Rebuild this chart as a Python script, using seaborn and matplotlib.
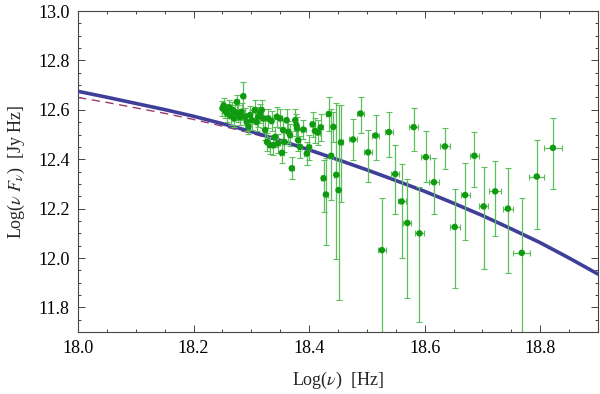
import numpy as np
import pandas as pd
import matplotlib
matplotlib.use("Agg")
import matplotlib.pyplot as plt
import seaborn as sns
from matplotlib.ticker import MultipleLocator

# observed points: log frequency, log nuFnu, lower/upper y error, x error
log_nu = [
    18.250, 18.252, 18.255, 18.258, 18.262, 18.264, 18.267, 18.270, 18.272, 18.275,
    18.277, 18.280, 18.283, 18.286, 18.289, 18.292, 18.295, 18.298, 18.301, 18.306,
    18.309, 18.312, 18.315, 18.318, 18.321, 18.324, 18.327, 18.329, 18.332, 18.335,
    18.338, 18.341, 18.344, 18.346, 18.350, 18.353, 18.355, 18.357, 18.361, 18.364,
    18.367, 18.370, 18.376, 18.378, 18.379, 18.381, 18.384,
    18.390, 18.396, 18.400, 18.406, 18.410, 18.415, 18.420, 18.425, 18.429, 18.434,
    18.438, 18.442, 18.447, 18.451, 18.455, 18.476, 18.489, 18.502, 18.515, 18.526,
    18.538, 18.549, 18.560, 18.570, 18.581, 18.591, 18.602, 18.616, 18.635, 18.652,
    18.670, 18.686, 18.702, 18.722, 18.744, 18.768, 18.794, 18.822,
]
log_flux = [
    12.606, 12.618, 12.595, 12.585, 12.610, 12.575, 12.600, 12.565, 12.590, 12.632,
    12.585, 12.570, 12.592, 12.655, 12.572, 12.551, 12.531, 12.579, 12.558, 12.599,
    12.551, 12.572, 12.585, 12.599, 12.565, 12.518, 12.470, 12.565, 12.457, 12.555,
    12.457, 12.490, 12.572, 12.464, 12.565, 12.426, 12.518, 12.470, 12.558, 12.511,
    12.498, 12.363, 12.558, 12.538, 12.525, 12.477, 12.450,
    12.520, 12.423, 12.448, 12.541, 12.515, 12.508, 12.529, 12.323, 12.257, 12.583,
    12.414, 12.531, 12.337, 12.275, 12.468, 12.480, 12.585, 12.428, 12.496, 12.032,
    12.510, 12.340, 12.229, 12.142, 12.530, 12.100, 12.409, 12.307, 12.452, 12.126,
    12.255, 12.414, 12.209, 12.270, 12.200, 12.021, 12.330, 12.446,
]
err_lo = [
    0.030, 0.030, 0.030, 0.035, 0.030, 0.035, 0.030, 0.035, 0.030, 0.030,
    0.035, 0.030, 0.035, 0.057, 0.035, 0.035, 0.030, 0.035, 0.040, 0.040,
    0.035, 0.040, 0.040, 0.040, 0.040, 0.040, 0.035, 0.040, 0.035, 0.040,
    0.040, 0.040, 0.040, 0.040, 0.040, 0.040, 0.040, 0.040, 0.045, 0.045,
    0.045, 0.045, 0.045, 0.045, 0.045, 0.045, 0.045,
    0.040, 0.045, 0.050, 0.050, 0.050, 0.050, 0.055, 0.136, 0.205, 0.070,
    0.180, 0.060, 0.340, 0.445, 0.240, 0.084, 0.078, 0.120, 0.100, 0.400,
    0.100, 0.160, 0.229, 0.302, 0.097, 0.358, 0.101, 0.129, 0.090, 0.246,
    0.180, 0.128, 0.255, 0.179, 0.262, 0.400, 0.214, 0.168,
]
err_hi = [
    0.030, 0.030, 0.030, 0.035, 0.030, 0.035, 0.030, 0.035, 0.030, 0.030,
    0.035, 0.030, 0.035, 0.057, 0.035, 0.035, 0.030, 0.035, 0.040, 0.040,
    0.035, 0.040, 0.040, 0.040, 0.040, 0.040, 0.035, 0.040, 0.035, 0.040,
    0.040, 0.040, 0.040, 0.040, 0.040, 0.040, 0.040, 0.040, 0.045, 0.045,
    0.045, 0.045, 0.045, 0.045, 0.045, 0.045, 0.045,
    0.040, 0.045, 0.050, 0.050, 0.050, 0.050, 0.055, 0.073, 0.150, 0.070,
    0.190, 0.060, 0.290, 0.345, 0.150, 0.082, 0.067, 0.092, 0.083, 0.211,
    0.082, 0.117, 0.151, 0.180, 0.078, 0.188, 0.106, 0.100, 0.075, 0.154,
    0.128, 0.097, 0.160, 0.123, 0.163, 0.224, 0.147, 0.122,
]
x_err = (
    [0.003] * 47
    + [0.004] * 15
    + [0.0064, 0.0064, 0.0065, 0.0065, 0.0066, 0.0066, 0.007, 0.007, 0.007,
       0.0075, 0.0075, 0.008, 0.008, 0.009, 0.0087,
       0.008, 0.008, 0.008, 0.010, 0.009, 0.0144, 0.0127, 0.015]
)

# model curves
model_nu = [18.00, 18.05, 18.10, 18.15, 18.20, 18.25, 18.30, 18.35, 18.40, 18.45,
            18.50, 18.55, 18.60, 18.65, 18.70, 18.75, 18.80, 18.85, 18.90]
model_solid = [12.675, 12.651, 12.626, 12.601, 12.574, 12.544, 12.512, 12.476, 12.438, 12.398,
               12.357, 12.314, 12.270, 12.222, 12.172, 12.118, 12.062, 12.000, 11.935]
model_dashed = [12.650, 12.630, 12.608, 12.586, 12.561, 12.534, 12.505, 12.472, 12.436, 12.396,
                12.355, 12.312, 12.268, 12.220, 12.170, 12.116, 12.060, 11.998, 11.933]

sns.set_theme(style="ticks")
plt.rcParams["font.family"] = ["Liberation Serif", "DejaVu Serif"]
plt.rcParams["mathtext.fontset"] = "stix"

points = pd.DataFrame({"x": log_nu, "y": log_flux})
curves = pd.DataFrame({"x": model_nu, "solid": model_solid, "dashed": model_dashed})

fig = plt.figure(figsize=(6.0, 3.94), dpi=100)
ax = fig.add_axes([0.13, 0.157, 0.8667, 0.815])

sns.lineplot(data=curves, x="x", y="dashed", ax=ax, color="#9c3c6c", lw=1.0,
             dashes=False, zorder=2).lines[-1].set_dashes([6, 4])
sns.lineplot(data=curves, x="x", y="solid", ax=ax, color="#3f3f9a", lw=2.6, zorder=3)

ax.errorbar(log_nu, log_flux, yerr=[err_lo, err_hi], xerr=x_err, fmt="none",
            ecolor="#5cbf5c", elinewidth=0.9, capsize=2.2, capthick=0.8, zorder=4)
sns.scatterplot(data=points, x="x", y="y", ax=ax, color="#0f9a0f", s=22,
                edgecolor="none", zorder=5)

ax.set_xlim(18.0, 18.9)
ax.set_ylim(11.7, 13.0)
ax.xaxis.set_major_locator(MultipleLocator(0.2))
ax.xaxis.set_minor_locator(MultipleLocator(0.05))
ax.yaxis.set_major_locator(MultipleLocator(0.2))
ax.yaxis.set_minor_locator(MultipleLocator(0.05))
ax.xaxis.set_major_formatter(plt.FormatStrFormatter("%.1f"))
ax.yaxis.set_major_formatter(plt.FormatStrFormatter("%.1f"))
ax.tick_params(which="both", direction="in", top=True, right=True,
               color="#444444", width=0.7)
ax.tick_params(which="major", length=5, labelsize=13, pad=6, labelcolor="black")
ax.tick_params(which="minor", length=2.5)
for sp in ax.spines.values():
    sp.set_color("#444444")
    sp.set_linewidth(0.8)

ax.set_xlabel(r"Log($\nu$)  [Hz]", fontsize=13, labelpad=9)
ax.set_ylabel(r"Log($\nu\ F_{\nu}$)  [Jy Hz]", fontsize=13, labelpad=8)

fig.savefig("out.png", dpi=100)
